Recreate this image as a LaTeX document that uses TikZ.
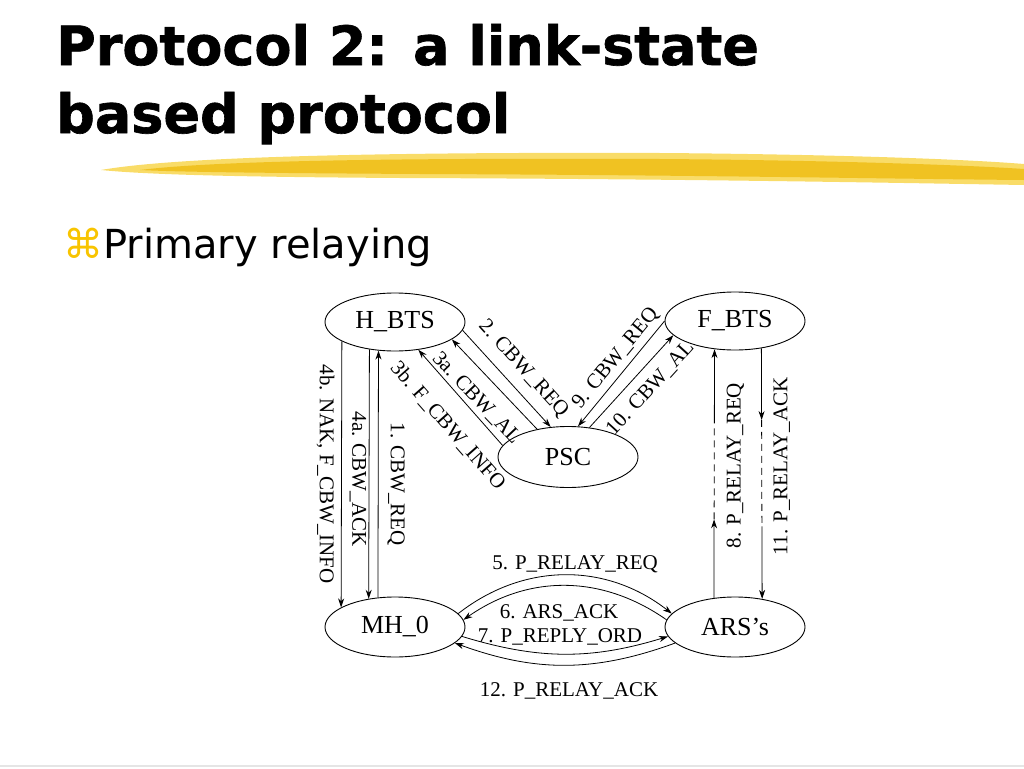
\documentclass[tikz,border=0pt]{standalone}
\usepackage{fontspec}
\setmainfont{Liberation Serif}
\newfontfamily\headfont{DejaVu Sans}
\newfontfamily\headboldfont[FakeBold=1.2]{DejaVu Sans Bold}
\usepackage{tikz}
\usetikzlibrary{arrows.meta,shapes.geometric,calc,positioning}

\definecolor{brushgold}{RGB}{240,194,34}
\definecolor{brushpale}{RGB}{249,220,104}
\definecolor{cmdyellow}{RGB}{248,196,0}

\newcommand{\titlefont}{\headboldfont\fontsize{54}{68}\selectfont}
\newcommand{\itemfont}{\headfont\fontsize{40}{48}\selectfont}
\newcommand{\statefont}{\fontsize{26}{26}\selectfont}
\newcommand{\lblfont}{\fontsize{21}{21}\selectfont}

\tikzset{
  entity/.style={ellipse, draw, line width=0.9pt, minimum width=140pt, minimum height=58pt, inner sep=0pt, font=\statefont},
  lbl/.style={font=\lblfont, inner sep=1pt},
  link/.style={line width=0.8pt},
  >={Stealth[length=9pt,width=6pt]},
}

\begin{document}
\begin{tikzpicture}[x=1pt,y=-1pt]
\useasboundingbox (0,0) rectangle (1024,768);
% heading
\node[anchor=base west, inner sep=0pt, font=\titlefont] (title1) at (56,65) {Protocol 2: a link-state};
\node[anchor=base west, inner sep=0pt, font=\titlefont] (title2) at (56,133) {based protocol};
\fill[brushpale] (101,170) .. controls (180,156) and (400,152) .. (660,153) .. controls (800,154) and (950,158) .. (1024,164) -- (1024,185) .. controls (900,183) and (700,179) .. (400,178) .. controls (250,177) and (150,175) .. cycle;
\fill[brushgold] (140,170) .. controls (220,160) and (420,158) .. (660,159) .. controls (800,160) and (950,164) .. (1024,169) -- (1024,180) .. controls (900,179) and (700,175) .. (420,174) .. controls (260,173) and (180,172) .. cycle;
\node[anchor=base west, inner sep=0pt, font=\itemfont] (item) at (63,258) {\textcolor{cmdyellow}{⌘}Primary relaying};
\draw[gray!20, line width=2pt] (0,766) -- (1024,766);

% entities
\node[entity] (hbts) at (395,322) {H\_BTS};
\node[entity] (fbts) at (735,321) {F\_BTS};
\node[entity, minimum height=61pt] (psc) at (568,457) {PSC};
\node[entity, minimum height=60pt] (mh) at (395,627) {MH\_0};
\node[entity, minimum height=60pt] (ars) at (735,627) {ARS’s};

\coordinate (p8lo) at ($(ars.126)!0.316!(fbts.-126)$);
\coordinate (p8hi) at ($(ars.126)!0.716!(fbts.-126)$);
\coordinate (p11hi) at ($(fbts.-46)!0.286!(ars.46)$);
\coordinate (p11lo) at ($(fbts.-46)!0.711!(ars.46)$);

\path[link]
  % H_BTS -- MH_0
  (mh.120) edge[->] node[lbl, xshift=18pt, yshift=-10pt, rotate=-90] {1. CBW\_REQ} (hbts.-120)
  (hbts.-133) edge[->] node[lbl, xshift=-11pt, yshift=-5pt, rotate=-90] {4a. CBW\_ACK} (mh.133)
  (hbts.-160) edge[->] node[lbl, xshift=-16pt, rotate=-90] {4b. NAK, F\_CBW\_INFO} (mh.160)
  % H_BTS -- PSC
  (hbts.-7) edge[->] node[lbl, sloped, pos=.53, above=9pt] {2. CBW\_REQ} (psc.120)
  (hbts.-17) edge[<-] node[lbl, sloped, pos=.48, below=13pt] {3a. CBW\_AL} (psc.138)
  (hbts.-50) edge[<-] node[lbl, sloped, pos=.6, below=18pt] {3b. F\_CBW\_INFO} (psc.170)
  % PSC -- F_BTS
  (psc.72) edge[<-] node[lbl, sloped, pos=.56, above=4pt] {9. CBW\_REQ} (fbts.180)
  (psc.54) edge[->] node[lbl, sloped, pos=.56, below=9pt] {10. CBW\_AL} (fbts.-167)
  % F_BTS -- ARS's
  (ars.126) edge[->] (p8lo)
  (p8lo) edge[dashed, dash pattern=on 7pt off 5pt] node[lbl, xshift=21pt, yshift=4pt, rotate=90] {8. P\_RELAY\_REQ} (p8hi)
  (p8hi) edge[->] (fbts.-126)
  (fbts.-46) edge[->] (p11hi)
  (p11hi) edge[dashed, dash pattern=on 7pt off 5pt] node[lbl, xshift=20pt, yshift=7pt, rotate=90] {11. P\_RELAY\_ACK} (p11lo)
  (p11lo) edge[->] (ars.46)
  % MH_0 -- ARS's
  (mh.12) edge[->, bend left=38] node[lbl, above=1pt, xshift=10pt] {5. P\_RELAY\_REQ} (ars.168)
  (ars.174) edge[->, bend right=35] node[lbl, below=17pt, xshift=-6pt] {6. ARS\_ACK} (mh.6)
  (mh.-8) edge[->, bend right=17] node[lbl, above=7pt, xshift=-5pt] {7. P\_REPLY\_ORD} (ars.-172)
  (ars.-165) edge[->, bend left=20] node[lbl, below=16pt, xshift=4pt] {12. P\_RELAY\_ACK} (mh.-15);
\end{tikzpicture}
\end{document}
